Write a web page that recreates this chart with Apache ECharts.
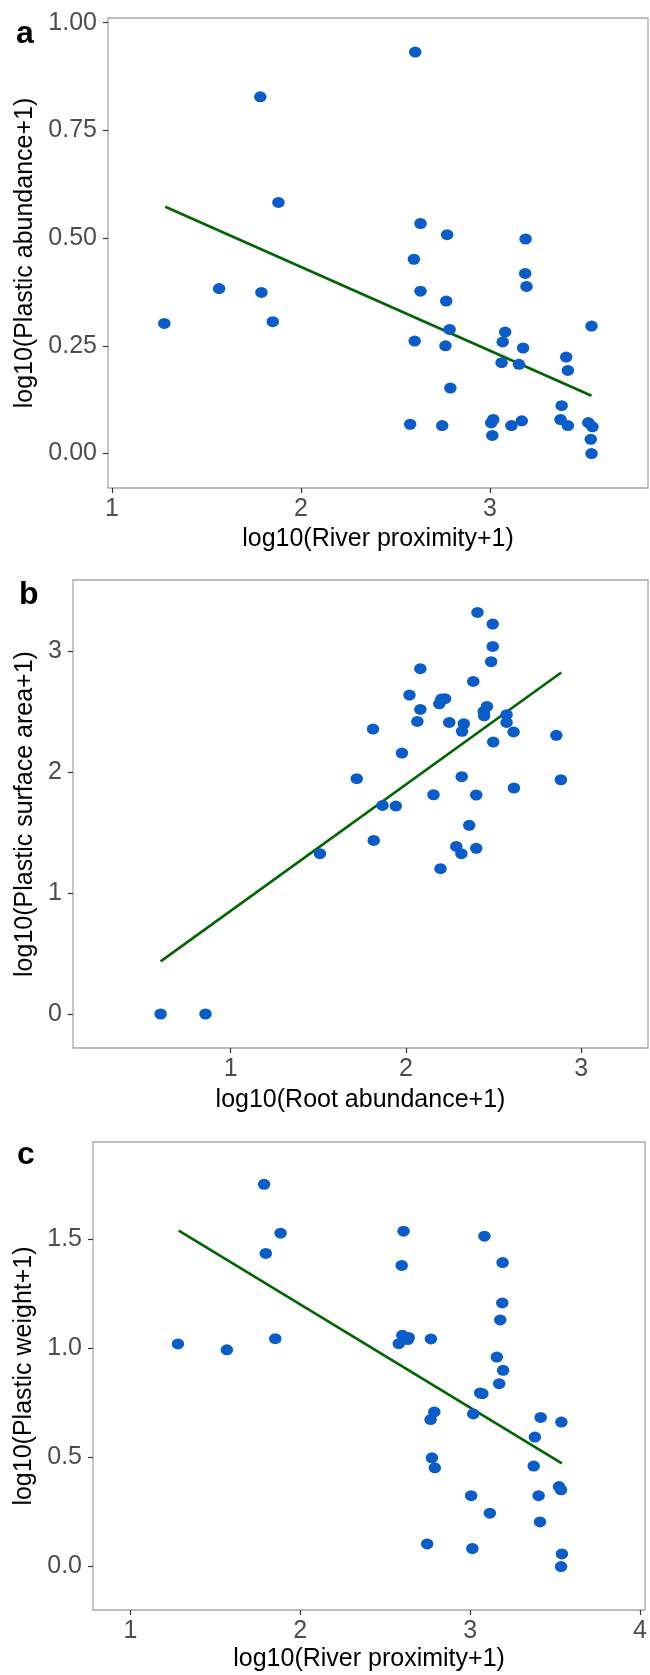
<!DOCTYPE html>
<html>
<head>
<meta charset="utf-8">
<script src="https://cdn.jsdelivr.net/npm/echarts@6/dist/echarts.min.js"></script>
<style>
html,body{margin:0;padding:0;background:#fff;}
#chart{width:650px;height:1675px;}
</style>
</head>
<body>
<div id="chart"></div>
<script>
// ---- Panel a: River proximity vs Plastic abundance
const aX = [2.605,1.785,1.881,2.633,2.774,3.189,2.598,3.187,1.567,1.791,2.633,3.194,2.769,1.277,1.851,3.538,2.602,2.787,2.765,3.081,3.068,3.176,3.062,3.154,3.404,3.413,2.791,3.380,2.578,2.748,3.007,3.018,3.013,3.114,3.169,3.374,3.413,3.521,3.543,3.534,3.538];
const aY = [0.932,0.828,0.583,0.534,0.508,0.498,0.451,0.418,0.383,0.374,0.377,0.388,0.354,0.302,0.306,0.296,0.261,0.288,0.250,0.282,0.259,0.245,0.211,0.207,0.224,0.193,0.152,0.111,0.068,0.065,0.071,0.079,0.042,0.065,0.076,0.079,0.065,0.072,0.062,0.033,0.000];
const aLineX = [1.282, 3.538];
const aLineY = [0.573, 0.134];
const aXTicks = [1, 2, 3];
const aYTicks = [0, 0.25, 0.5, 0.75, 1];

// ---- Panel b: Root abundance vs Plastic surface area
const bX = [2.408,2.495,2.495,2.486,2.082,2.384,2.020,2.190,2.202,2.223,2.082,2.462,2.444,2.446,2.574,2.065,2.247,2.330,2.320,2.574,1.812,2.614,2.858,2.498,1.977,1.719,2.318,2.884,2.616,2.157,2.401,1.866,1.942,2.361,1.816,1.509,2.287,2.316,2.401,2.197,0.600,0.856];
const bY = [3.319,3.223,3.038,2.912,2.854,2.749,2.636,2.564,2.603,2.606,2.517,2.542,2.501,2.465,2.474,2.418,2.410,2.399,2.336,2.410,2.355,2.331,2.303,2.248,2.157,1.945,1.961,1.936,1.868,1.812,1.810,1.724,1.719,1.559,1.435,1.325,1.385,1.325,1.369,1.201,0,0];
const bLineX = [0.600, 2.886];
const bLineY = [0.435, 2.823];
const bXTicks = [1, 2, 3];
const bYTicks = [0, 1, 2, 3];

// ---- Panel c: River proximity vs Plastic weight
const cX = [1.787,2.608,3.084,1.884,1.797,2.597,3.191,3.189,3.177,1.280,1.568,1.853,2.580,2.601,2.638,2.633,2.769,3.157,3.194,3.171,3.059,3.072,2.789,2.767,3.018,3.415,3.537,3.381,2.775,2.792,3.374,3.523,3.535,3.006,3.403,3.116,3.411,2.747,3.013,3.540,3.535];
const cY = [1.753,1.538,1.515,1.529,1.436,1.381,1.394,1.209,1.131,1.021,0.994,1.045,1.022,1.061,1.051,1.041,1.044,0.961,0.900,0.839,0.796,0.793,0.709,0.674,0.700,0.684,0.663,0.594,0.499,0.453,0.461,0.367,0.352,0.325,0.325,0.245,0.205,0.104,0.083,0.058,0.000];
const cLineX = [1.285, 3.540];
const cLineY = [1.541, 0.473];
const cXTicks = [1, 2, 3, 4];
const cYTicks = [0, 0.5, 1, 1.5];

const panelLabels = ['a', 'b', 'c'];
const xTitles = ['log10(River proximity+1)', 'log10(Root abundance+1)', 'log10(River proximity+1)'];
const yTitles = ['log10(Plastic abundance+1)', 'log10(Plastic surface area+1)', 'log10(Plastic weight+1)'];

const zip = (xs, ys) => xs.map((x, i) => [x, ys[i]]);

const FONT = 'Liberation Sans, Arial, sans-serif';
const POINT = '#0a5cc8';
const LINE = '#006400';

const grids = [
  {left: 108, top: 18, width: 540, height: 470},
  {left: 73, top: 580, width: 575, height: 468},
  {left: 93, top: 1142, width: 554, height: 468}
];
const xRanges = [[0.979, 3.837], [0.100, 3.381], [0.780, 4.03]];
const yRanges = [[-0.080, 1.011], [-0.281, 3.587], [-0.199, 1.947]];
const xTickSets = [aXTicks, bXTicks, cXTicks];
const yTickSets = [aYTicks, bYTicks, cYTicks];
const yFmt = [v => v.toFixed(2), v => String(v), v => v.toFixed(1)];
const yNameGap = [67, 32, 53];
const xNameGap = [39, 40, 37];

const xAxes = [], yAxes = [], series = [], titles = [];
for (let i = 0; i < 3; i++) {
  xAxes.push({
    type: 'value', gridIndex: i, min: xRanges[i][0], max: xRanges[i][1], position: 'bottom',
    name: xTitles[i], nameLocation: 'middle', nameGap: xNameGap[i],
    nameTextStyle: {color: '#000', fontSize: 25, fontFamily: FONT},
    axisLine: {show: false, onZero: false},
    splitLine: {show: false},
    axisTick: {show: true, length: 5, lineStyle: {color: '#333', width: 1.2}, customValues: xTickSets[i]},
    axisLabel: {color: '#4d4d4d', fontSize: 25, fontFamily: FONT, margin: 9, customValues: xTickSets[i], formatter: v => String(v)}
  });
  yAxes.push({
    type: 'value', gridIndex: i, min: yRanges[i][0], max: yRanges[i][1], position: 'left',
    name: yTitles[i], nameLocation: 'middle', nameGap: yNameGap[i], nameRotate: 90,
    nameTextStyle: {color: '#000', fontSize: 25, fontFamily: FONT},
    axisLine: {show: false, onZero: false},
    splitLine: {show: false},
    axisTick: {show: true, length: 5, lineStyle: {color: '#333', width: 1.2}, customValues: yTickSets[i]},
    axisLabel: {color: '#4d4d4d', fontSize: 25, fontFamily: FONT, margin: 11, customValues: yTickSets[i], formatter: yFmt[i]}
  });
  titles.push({
    text: panelLabels[i], left: [11, 14, 12][i], top: [13, 574, 1134][i],
    textStyle: {fontSize: 32, fontWeight: 'bold', color: '#000', fontFamily: FONT}
  });
}

const pts = [zip(aX, aY), zip(bX, bY), zip(cX, cY)];
const lines = [zip(aLineX, aLineY), zip(bLineX, bLineY), zip(cLineX, cLineY)];
for (let i = 0; i < 3; i++) {
  series.push({
    type: 'line', xAxisIndex: i, yAxisIndex: i, data: lines[i],
    showSymbol: false, symbol: 'none', lineStyle: {color: LINE, width: 2.6}, z: 2, animation: false
  });
  series.push({
    type: 'scatter', xAxisIndex: i, yAxisIndex: i, data: pts[i],
    symbol: 'circle', symbolSize: [12.5, 11], itemStyle: {color: POINT, opacity: 1}, z: 3, animation: false
  });
}

const chart = echarts.init(document.getElementById('chart'), null, {renderer: 'canvas'});
chart.setOption({
  backgroundColor: '#fff',
  animation: false,
  title: titles,
  grid: grids.map(g => Object.assign({show: true, borderColor: '#a8a8a8', borderWidth: 1.3, backgroundColor: '#fff'}, g)),
  xAxis: xAxes,
  yAxis: yAxes,
  series: series
});
</script>
</body>
</html>
